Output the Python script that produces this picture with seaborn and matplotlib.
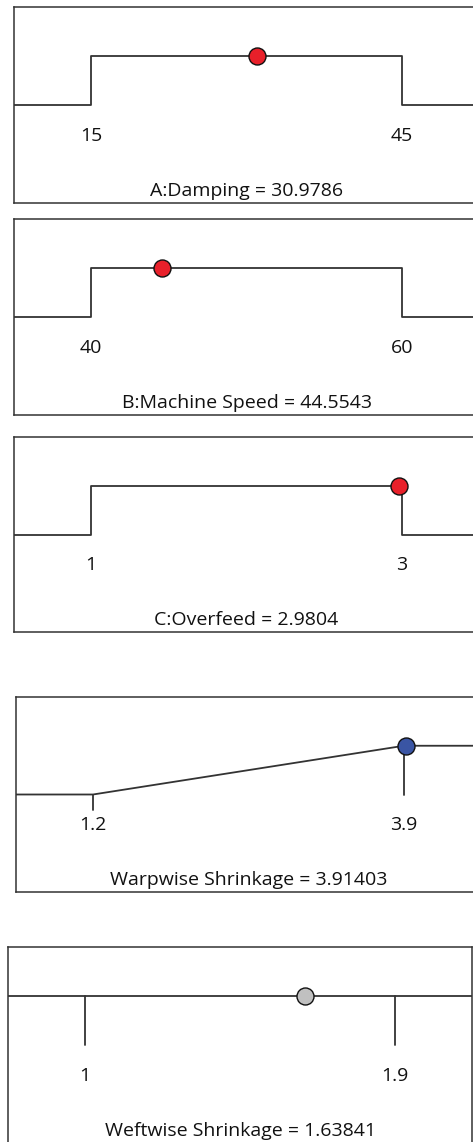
import matplotlib
matplotlib.use("Agg")
import matplotlib.pyplot as plt
import matplotlib.transforms as mtransforms
import seaborn as sns
import pandas as pd

# ---- data ----
factor_names = ["A:Damping", "B:Machine Speed", "C:Overfeed"]
factor_lows = [15, 40, 1]
factor_highs = [45, 60, 3]
factor_values = [30.9786, 44.5543, 2.9804]
factor_value_labels = ["30.9786", "44.5543", "2.9804"]
factor_low_labels = ["15", "40", "1"]
factor_high_labels = ["45", "60", "3"]

resp_names = ["Warpwise Shrinkage", "Weftwise Shrinkage"]
resp_lows = [1.2, 1]
resp_highs = [3.9, 1.9]
resp_values = [3.91403, 1.63841]
resp_value_labels = ["3.91403", "1.63841"]
resp_low_labels = ["1.2", "1"]
resp_high_labels = ["3.9", "1.9"]
resp_desirability = [1.0, 1.0]

# ---- style ----
sns.set_theme(style="white")
plt.rcParams["font.family"] = ["Open Sans", "DejaVu Sans"]
LINE = "#333333"
FS = 14

W, H = 473, 1142
fig = plt.figure(figsize=(W / 100, H / 100), dpi=100)

def make_ax(L, T, B, width=465):
    ax = fig.add_axes([L / W, 1 - B / H, width / W, (B - T) / H])
    for s in ax.spines.values():
        s.set_visible(True)
        s.set_color(LINE)
        s.set_linewidth(1.1)
    ax.set_xticks([])
    ax.set_yticks([])
    ax.set_ylim(-2, 2)
    return ax

def line(ax, xs, ys):
    df = pd.DataFrame({"x": xs, "y": ys})
    sns.lineplot(data=df, x="x", y="y", ax=ax, sort=False, estimator=None,
                 color=LINE, linewidth=1.3)

def labels(ax, lo, hi, lo_lab, hi_lab, title):
    ax.text(lo, -0.63, lo_lab, ha="center", va="center", fontsize=FS, color="#111111")
    ax.text(hi, -0.63, hi_lab, ha="center", va="center", fontsize=FS, color="#111111")
    trans = mtransforms.blended_transform_factory(ax.transAxes, ax.transData)
    ax.text(0.5, -1.75, title, transform=trans, ha="center", va="center",
            fontsize=FS, color="#111111")
    ax.set_xlabel("")
    ax.set_ylabel("")

def point(ax, x, y, color):
    df = pd.DataFrame({"x": [x], "y": [y]})
    sns.scatterplot(data=df, x="x", y="y", ax=ax, s=150, color=color,
                    edgecolor="#111111", linewidth=1.0, zorder=5, clip_on=False)

factor_pos = [(14, 7, 203), (14, 219, 415), (14, 437, 632)]
for i in range(3):
    L, T, B = factor_pos[i]
    ax = make_ax(L, T, B)
    lo, hi = factor_lows[i], factor_highs[i]
    span = hi - lo
    ax.set_xlim(lo - 0.2476 * span, hi + 0.2476 * span)
    line(ax, [lo - span, lo, lo, hi, hi, hi + span], [0, 0, 1, 1, 0, 0])
    point(ax, factor_values[i], 1, "#E8202A")
    labels(ax, lo, hi, factor_low_labels[i], factor_high_labels[i],
           f"{factor_names[i]} = {factor_value_labels[i]}")

# Warpwise shrinkage (minimize ramp)
ax = make_ax(16, 697, 892)
lo, hi = resp_lows[0], resp_highs[0]
span = hi - lo
ax.set_xlim(lo - 0.2476 * span, hi + 0.2476 * span)
line(ax, [lo - span, lo, hi, hi + span], [0, 0, 1, 1])
line(ax, [lo, lo], [0, -0.31])
line(ax, [hi, hi], [1, 0])
point(ax, resp_values[0], resp_desirability[0], "#3A55A4")
labels(ax, lo, hi, resp_low_labels[0], resp_high_labels[0],
       f"{resp_names[0]} = {resp_value_labels[0]}")

# Weftwise shrinkage (in range)
ax = make_ax(8, 947, 1143, width=464)
lo, hi = resp_lows[1], resp_highs[1]
span = hi - lo
ax.set_xlim(lo - 0.2476 * span, hi + 0.2476 * span)
line(ax, [lo - span, hi + span], [1, 1])
line(ax, [lo, lo], [1, 0])
line(ax, [hi, hi], [1, 0])
point(ax, resp_values[1], resp_desirability[1], "#C0C0C0")
labels(ax, lo, hi, resp_low_labels[1], resp_high_labels[1],
       f"{resp_names[1]} = {resp_value_labels[1]}")

fig.savefig("out.png", dpi=100)
